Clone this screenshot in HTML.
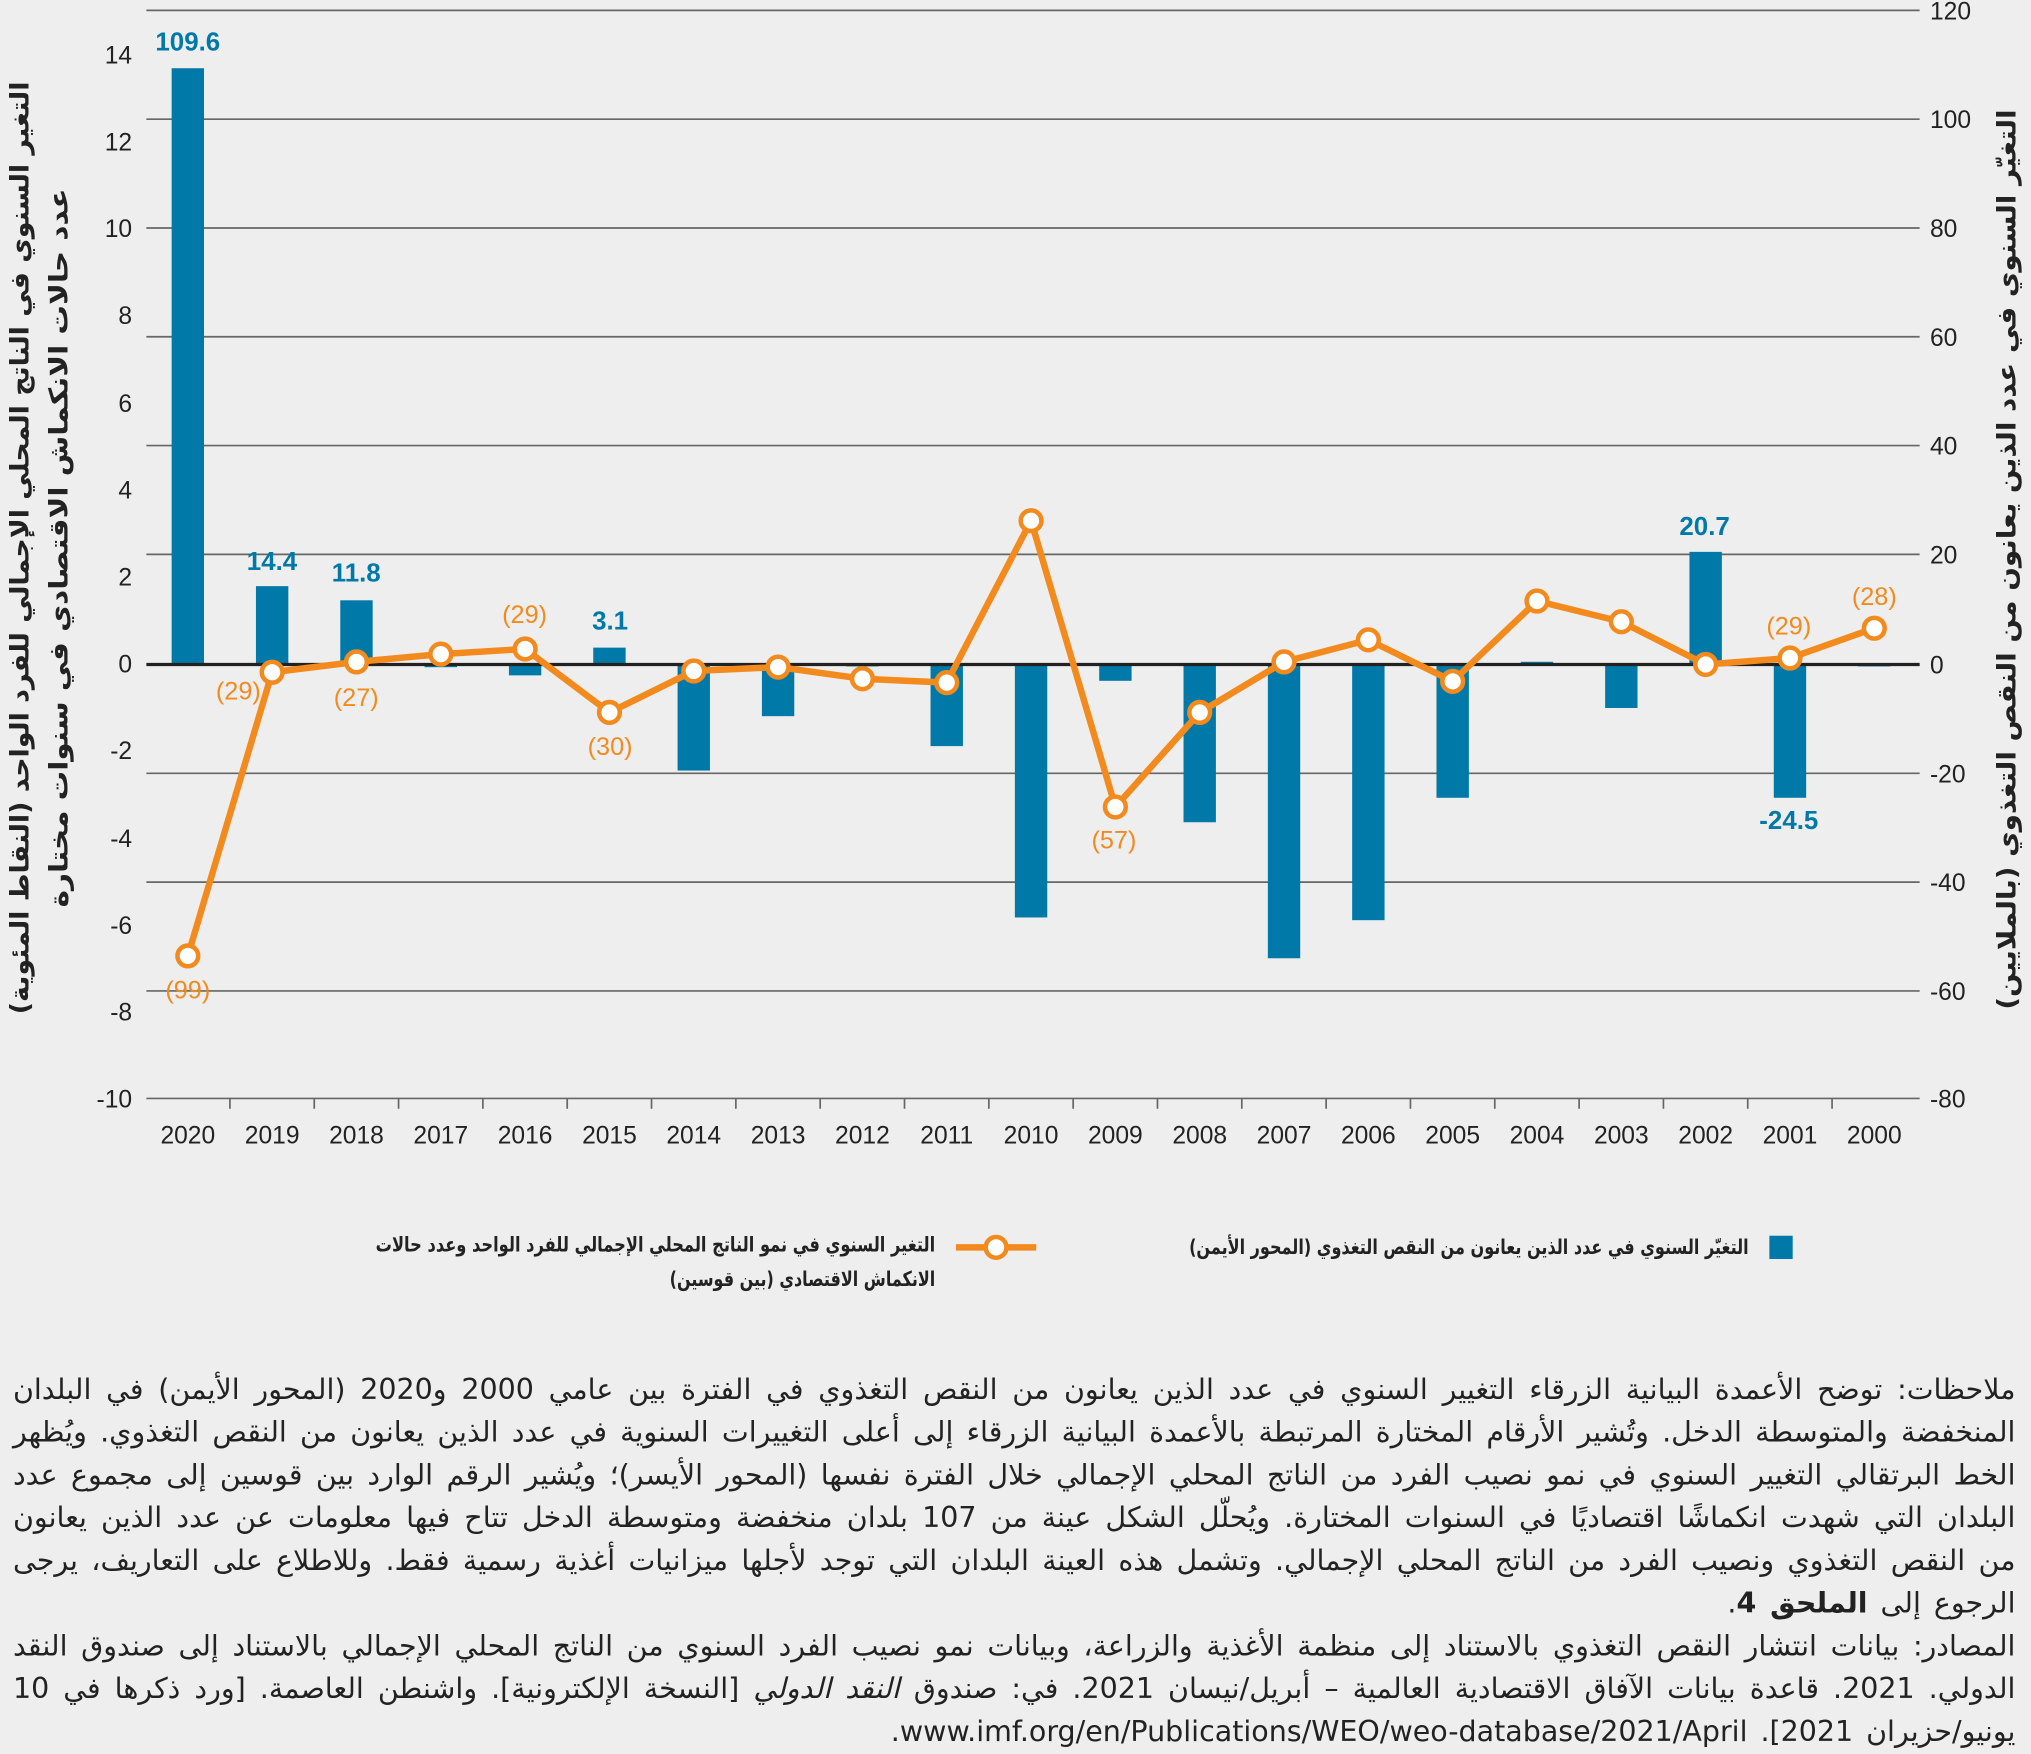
<!DOCTYPE html>
<html><head><meta charset="utf-8">
<style>
html,body{margin:0;padding:0;background:#eeeeee;}
body{width:2031px;height:1752px;overflow:hidden;}
#c{position:absolute;left:0;top:0;width:1568px;height:1353px;transform:scale(1.2953);transform-origin:0 0;font-family:"Liberation Sans","Noto Sans CJK SC",sans-serif;}
.notes{position:absolute;left:10px;width:1546px;direction:rtl;text-align:justify;font-family:"DejaVu Sans","Liberation Sans",sans-serif;font-size:22px;line-height:33px;color:#222;}
</style></head><body><div id="c">
<svg width="1568" height="1353" viewBox="0 0 1568 1353" style="position:absolute;left:0;top:0" font-family="Liberation Sans, sans-serif">
<g stroke="#666" stroke-width="1.3">
<line x1="113" y1="8" x2="1482" y2="8"/><line x1="113" y1="92" x2="1482" y2="92"/><line x1="113" y1="176" x2="1482" y2="176"/><line x1="113" y1="260" x2="1482" y2="260"/><line x1="113" y1="344" x2="1482" y2="344"/><line x1="113" y1="428" x2="1482" y2="428"/><line x1="113" y1="597" x2="1482" y2="597"/><line x1="113" y1="681" x2="1482" y2="681"/><line x1="113" y1="765" x2="1482" y2="765"/><line x1="113" y1="848" x2="1482" y2="848"/>
</g>
<g stroke="#666" stroke-width="1.3" id="ticks"></g>
<g fill="#0079a8" id="bars"></g>
<line x1="113" y1="513" x2="1482" y2="513" stroke="#222" stroke-width="2.5"/>
<g font-size="19" fill="#222" text-anchor="end">
<text x="102" y="49">14</text><text x="102" y="116">12</text><text x="102" y="183">10</text><text x="102" y="250">8</text><text x="102" y="318">6</text><text x="102" y="385">4</text><text x="102" y="452">2</text><text x="102" y="519">0</text><text x="102" y="586">-2</text><text x="102" y="654">-4</text><text x="102" y="721">-6</text><text x="102" y="788">-8</text><text x="102" y="855">-10</text>
</g>
<g font-size="19" fill="#222">
<text x="1490" y="15">120</text><text x="1490" y="99">100</text><text x="1490" y="183">80</text><text x="1490" y="267">60</text><text x="1490" y="351">40</text><text x="1490" y="435">20</text><text x="1490" y="520">0</text><text x="1490" y="604">-20</text><text x="1490" y="688">-40</text><text x="1490" y="772">-60</text><text x="1490" y="855">-80</text>
</g>
<g font-size="19" fill="#222" text-anchor="middle" id="years"></g>
<polyline id="line" fill="none" stroke="#f28a1e" stroke-width="5" stroke-linejoin="round"/>
<g id="dots" fill="#fff" stroke="#f28a1e" stroke-width="3.5"></g>
<g font-size="20" font-weight="bold" fill="#0079a8" text-anchor="middle">
<text x="145" y="39">109.6</text><text x="210" y="440">14.4</text><text x="275" y="449">11.8</text><text x="471" y="486">3.1</text><text x="1316" y="413">20.7</text><text x="1381" y="640">-24.5</text>
</g>
<g font-size="19.5" fill="#f28a1e" text-anchor="middle">
<text x="145" y="771">(99)</text><text x="184" y="540">(29)</text><text x="275" y="545">(27)</text><text x="405" y="481">(29)</text><text x="471" y="583">(30)</text><text x="860" y="655">(57)</text><text x="1381" y="490">(29)</text><text x="1447" y="467">(28)</text>
</g>
<g font-family="DejaVu Sans, sans-serif" fill="#222" font-weight="bold">
<text transform="translate(22,423) rotate(-90)" text-anchor="middle" font-size="20" direction="rtl" textLength="720" lengthAdjust="spacingAndGlyphs">التغير السنوي في الناتج المحلي الإجمالي للفرد الواحد (النقاط المئوية)</text>
<text transform="translate(52,423) rotate(-90)" text-anchor="middle" font-size="20" direction="rtl" textLength="555" lengthAdjust="spacingAndGlyphs">عدد حالات الانكماش الاقتصادي في سنوات مختارة</text>
<text transform="translate(1556,432) rotate(-90)" text-anchor="middle" font-size="20" direction="rtl" textLength="695" lengthAdjust="spacingAndGlyphs">التغيّر السنوي في عدد الذين يعانون من النقص التغذوي (بالملايين)</text>
</g>
<rect x="1366" y="954" width="18" height="18" fill="#0079a8"/>
<g font-size="16" font-weight="bold" fill="#222" font-family="DejaVu Sans, sans-serif">
<text x="1350" y="968" textLength="432" lengthAdjust="spacingAndGlyphs" direction="rtl">التغيّر السنوي في عدد الذين يعانون من النقص التغذوي (المحور الأيمن)</text>
<text x="722" y="966" textLength="432" lengthAdjust="spacingAndGlyphs" direction="rtl">التغير السنوي في نمو الناتج المحلي الإجمالي للفرد الواحد وعدد حالات</text>
<text x="722" y="993" textLength="205" lengthAdjust="spacingAndGlyphs" direction="rtl">الانكماش الاقتصادي (بين قوسين)</text>
</g>
<line x1="738" y1="963" x2="800" y2="963" stroke="#f28a1e" stroke-width="5"/>
<circle cx="769" cy="963" r="8" fill="#fff" stroke="#f28a1e" stroke-width="3.5"/>
</svg>
<div class="notes" style="top:1057px;word-spacing:3px">ملاحظات: توضح الأعمدة البيانية الزرقاء التغيير السنوي في عدد الذين يعانون من النقص التغذوي في الفترة بين عامي 2000 و2020 (المحور الأيمن) في البلدان المنخفضة والمتوسطة الدخل. وتُشير الأرقام المختارة المرتبطة بالأعمدة البيانية الزرقاء إلى أعلى التغييرات السنوية في عدد الذين يعانون من النقص التغذوي. ويُظهر الخط البرتقالي التغيير السنوي في نمو نصيب الفرد من الناتج المحلي الإجمالي خلال الفترة نفسها (المحور الأيسر)؛ ويُشير الرقم الوارد بين قوسين إلى مجموع عدد البلدان التي شهدت انكماشًا اقتصاديًا في السنوات المختارة. ويُحلّل الشكل عينة من 107 بلدان منخفضة ومتوسطة الدخل تتاح فيها معلومات عن عدد الذين يعانون من النقص التغذوي ونصيب الفرد من الناتج المحلي الإجمالي. وتشمل هذه العينة البلدان التي توجد لأجلها ميزانيات أغذية رسمية فقط. وللاطلاع على التعاريف، يرجى الرجوع إلى <b>الملحق 4</b>.</div>
<div class="notes" style="top:1255px;word-spacing:3px">المصادر: بيانات انتشار النقص التغذوي بالاستناد إلى منظمة الأغذية والزراعة، وبيانات نمو نصيب الفرد السنوي من الناتج المحلي الإجمالي بالاستناد إلى صندوق النقد الدولي. 2021. قاعدة بيانات الآفاق الاقتصادية العالمية – أبريل/نيسان 2021. في: صندوق <i>النقد الدولي</i> [النسخة الإلكترونية]. واشنطن العاصمة. [ورد ذكرها في 10 يونيو/حزيران 2021]. www.imf.org/en/Publications/WEO/weo-database/2021/April.</div>
</div>
<script>
var ns="http://www.w3.org/2000/svg";
var bars=[109.6,14.4,11.8,-0.5,-2,3.1,-19.5,-9.5,0,-15,-46.5,-3,-29,-54,-47,-24.5,0.5,-8,20.7,-24.5,0];
var ly=[738,519,511,505,501,550,518,515,524,527,402,623,550,511,494,526,464,480,513,508,485];
var pts=[];
for(var i=0;i<21;i++){
 var x=145+65.1*i;
 var v=bars[i],y0=513,y1=513-v*4.2;
 var r=document.createElementNS(ns,"rect");
 r.setAttribute("x",x-12.5);r.setAttribute("width",25);
 r.setAttribute("y",Math.min(y0,y1));r.setAttribute("height",Math.max(Math.abs(y1-y0),1.5));
 document.getElementById("bars").appendChild(r);
 var t=document.createElementNS(ns,"text");t.setAttribute("x",x);t.setAttribute("y",883);t.textContent=2020-i;
 document.getElementById("years").appendChild(t);
 var l=document.createElementNS(ns,"line");l.setAttribute("x1",x+32.5);l.setAttribute("x2",x+32.5);l.setAttribute("y1",848);l.setAttribute("y2",856);
 if(i<20)document.getElementById("ticks").appendChild(l);
 pts.push(x+","+ly[i]);
 var c=document.createElementNS(ns,"circle");c.setAttribute("cx",x);c.setAttribute("cy",ly[i]);c.setAttribute("r",8);
 document.getElementById("dots").appendChild(c);
}
document.getElementById("line").setAttribute("points",pts.join(" "));
</script>
</body></html>
